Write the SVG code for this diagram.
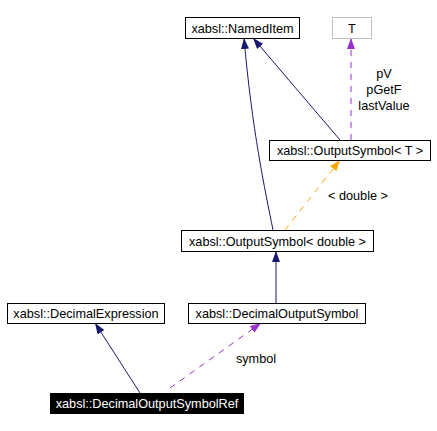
<svg xmlns="http://www.w3.org/2000/svg" width="437" height="431" viewBox="0 0 437 431">
<style>
.box{fill:#fff;stroke:#000;stroke-width:1}
.lbl{font-family:"Liberation Sans",Arial,sans-serif;font-size:12.7px;fill:#000;text-anchor:middle}
.e{fill:none;stroke-width:1}
.navy{stroke:#191970}
.purple{stroke:#9a32cd;stroke-dasharray:6,6}
.orange{stroke:#ffa500;stroke-dasharray:6,6}
</style>
<defs>
<marker id="aN" markerUnits="userSpaceOnUse" markerWidth="12" markerHeight="9" refX="11" refY="4" orient="auto"><path d="M0,0 L11,4 L0,8 z" fill="#191970"/></marker>
<marker id="aP" markerUnits="userSpaceOnUse" markerWidth="12" markerHeight="9" refX="11" refY="4" orient="auto"><path d="M0,0 L11,4 L0,8 z" fill="#9a32cd"/></marker>
<marker id="aO" markerUnits="userSpaceOnUse" markerWidth="12" markerHeight="9" refX="11" refY="4" orient="auto"><path d="M0,0 L11,4 L0,8 z" fill="#ffa500"/></marker>
</defs>
<rect width="437" height="431" fill="#fff"/>
<g id="connectors">
<path class="e navy" d="M340,140 L253,38" marker-end="url(#aN)"/>
<path class="e navy" d="M273,230 C265,190 252,130 244,38" marker-end="url(#aN)"/>
<path class="e purple" d="M351,140 L351,38" marker-end="url(#aP)"/>
<path class="e orange" d="M285,230 L340,160" marker-end="url(#aO)"/>
<path class="e navy" d="M276,303 L276,251" marker-end="url(#aN)"/>
<path class="e navy" d="M140,393 L95,323" marker-end="url(#aN)"/>
<path class="e purple" d="M170,388 L261,323" marker-end="url(#aP)"/>
<text class="lbl" x="384" y="78">pV</text>
<text class="lbl" x="384" y="94">pGetF</text>
<text class="lbl" x="384" y="110">lastValue</text>
<text class="lbl" x="358" y="200">&lt; double &gt;</text>
<text class="lbl" x="256" y="363">symbol</text>
</g>
<g id="NamedItem"><rect class="box" x="185.5" y="17.5" width="114" height="21"/><text class="lbl" x="242.5" y="32.5">xabsl::NamedItem</text></g>
<g id="T"><rect class="box" x="332.5" y="17.5" width="39" height="21" style="stroke:#bfbfbf"/><text class="lbl" x="352" y="32.5">T</text></g>
<g id="OutputSymbolT"><rect class="box" x="269.5" y="140.5" width="161" height="20"/><text class="lbl" x="350" y="155">xabsl::OutputSymbol&lt; T &gt;</text></g>
<g id="OutputSymbolDouble"><rect class="box" x="181.5" y="230.5" width="192" height="21"/><text class="lbl" x="277.5" y="245.5">xabsl::OutputSymbol&lt; double &gt;</text></g>
<g id="DecimalExpression"><rect class="box" x="7.5" y="303.5" width="157" height="20"/><text class="lbl" x="86" y="318">xabsl::DecimalExpression</text></g>
<g id="DecimalOutputSymbol"><rect class="box" x="188.5" y="303.5" width="177" height="20"/><text class="lbl" x="277" y="318">xabsl::DecimalOutputSymbol</text></g>
<g id="DecimalOutputSymbolRef"><rect x="50" y="393" width="194" height="21" fill="#000"/><text class="lbl" x="147" y="408" style="fill:#fff">xabsl::DecimalOutputSymbolRef</text></g>
</svg>
